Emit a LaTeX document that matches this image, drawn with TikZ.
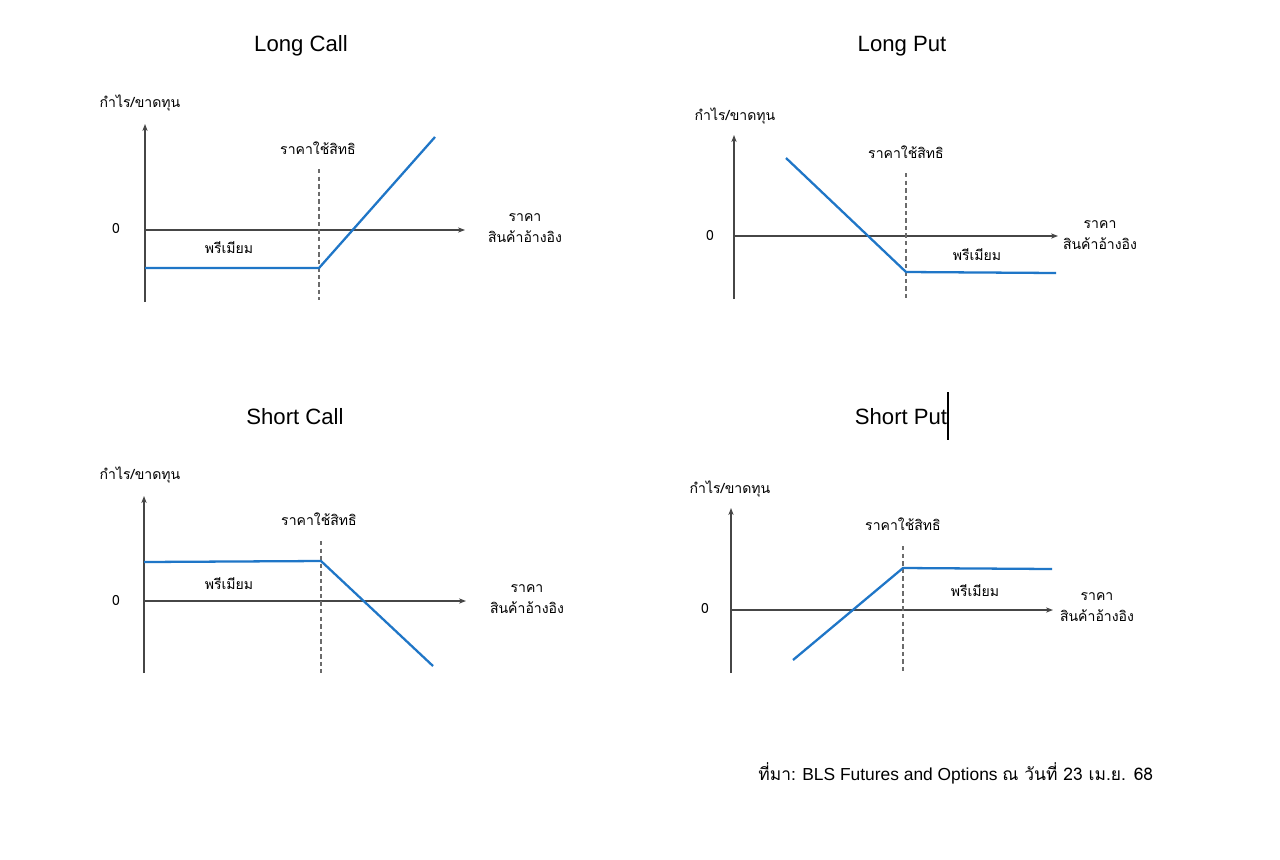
\documentclass[tikz,border=0pt]{standalone}
\usepackage{fontspec}
\setmainfont{Liberation Sans}
\newfontfamily\thaifont[Script=Thai]{Loma}
\usetikzlibrary{arrows.meta}

\definecolor{paycolor}{RGB}{31,118,199}
\definecolor{axisgray}{RGB}{70,70,70}

\tikzset{
  axis/.style={draw=axisgray, line width=0.8pt, -{Stealth[length=4pt,width=3pt]}},
  strikeline/.style={draw=axisgray!80, line width=0.6pt, dash pattern=on 2.5pt off 1.8pt},
  payline/.style={draw=paycolor, line width=1.3pt, line join=miter},
  title/.style={font=\fontsize{12.6}{15}\selectfont, inner sep=0pt},
  lbl/.style={font=\thaifont\fontsize{8}{12}\selectfont, inner sep=0pt, align=center},
}

\begin{document}
\begin{tikzpicture}[x=0.02cm,y=-0.02cm]
  \fill[white] (0,0) rectangle (1280,859);
  \useasboundingbox (0,0) rectangle (1280,859);

  % Long Call
  \node[title] (lctitle) at (301,46) {Long Call};
  \node[lbl] (lcylabel) at (140,103) {กำไร/ขาดทุน};
  \node[lbl] (lczero) at (116,228) {0};
  \node[lbl] (lcstrike) at (318,148) {ราคาใช้สิทธิ};
  \node[lbl] (lcprem) at (229,248) {พรีเมียม};
  \node[lbl] (lcxlabel) at (525,228) {ราคา\\สินค้าอ้างอิง};
  \coordinate (lcbot) at (145,302);
  \coordinate (lctop) at (145,124);
  \coordinate (lco) at (145,230);
  \coordinate (lcend) at (465,230);
  \coordinate (lck) at (319,268);
  \draw[axis] (lcbot) -- (lctop);
  \draw[axis] (lco) -- (lcend);
  \draw[strikeline] (319,169) -- (319,300);
  \draw[payline] (145,268) -- (lck) -- (435,137);

  % Long Put
  \node[title] (lptitle) at (902,46) {Long Put};
  \node[lbl] (lpylabel) at (735,116) {กำไร/ขาดทุน};
  \node[lbl] (lpzero) at (710,235) {0};
  \node[lbl] (lpstrike) at (906,152) {ราคาใช้สิทธิ};
  \node[lbl] (lpprem) at (977,255) {พรีเมียม};
  \node[lbl] (lpxlabel) at (1100,235) {ราคา\\สินค้าอ้างอิง};
  \coordinate (lpbot) at (734,299);
  \coordinate (lptop) at (734,135);
  \coordinate (lpo) at (734,236);
  \coordinate (lpend) at (1058,236);
  \coordinate (lpk) at (906,272);
  \draw[axis] (lpbot) -- (lptop);
  \draw[axis] (lpo) -- (lpend);
  \draw[strikeline] (906,173) -- (906,300);
  \draw[payline] (786,158) -- (lpk) -- (1056,273);

  % Short Call
  \node[title] (sctitle) at (295,417) {Short Call};
  \node[lbl] (scylabel) at (140,475) {กำไร/ขาดทุน};
  \node[lbl] (sczero) at (116,600) {0};
  \node[lbl] (scstrike) at (319,519) {ราคาใช้สิทธิ};
  \node[lbl] (scprem) at (229,584) {พรีเมียม};
  \node[lbl] (scxlabel) at (527,599) {ราคา\\สินค้าอ้างอิง};
  \coordinate (scbot) at (144,673);
  \coordinate (sctop) at (144,496);
  \coordinate (sco) at (144,601);
  \coordinate (scend) at (466,601);
  \coordinate (sck) at (321,561);
  \draw[axis] (scbot) -- (sctop);
  \draw[axis] (sco) -- (scend);
  \draw[strikeline] (321,541) -- (321,673);
  \draw[payline] (144,562) -- (sck) -- (433,666);

  % Short Put
  \node[title] (sptitle) at (901,417) {Short Put};
  \draw[black, line width=0.6pt] (948,392) -- (948,440);
  \node[lbl] (spylabel) at (730,489) {กำไร/ขาดทุน};
  \node[lbl] (spzero) at (705,608) {0};
  \node[lbl] (spstrike) at (903,524) {ราคาใช้สิทธิ};
  \node[lbl] (spprem) at (975,591) {พรีเมียม};
  \node[lbl] (spxlabel) at (1097,607) {ราคา\\สินค้าอ้างอิง};
  \coordinate (spbot) at (731,673);
  \coordinate (sptop) at (731,508);
  \coordinate (spo) at (731,610);
  \coordinate (spend) at (1053,610);
  \coordinate (spk) at (903,568);
  \draw[axis] (spbot) -- (sptop);
  \draw[axis] (spo) -- (spend);
  \draw[strikeline] (903,546) -- (903,673);
  \draw[payline] (793,660) -- (spk) -- (1052,569);

  % source
  \node[anchor=west, inner sep=0pt, font=\fontsize{9.9}{12}\selectfont] (source) at (758,773)
    {{\thaifont ที่มา:} BLS Futures and Options {\thaifont ณ วันที่ 23 เม.ย. 68}};
\end{tikzpicture}
\end{document}
